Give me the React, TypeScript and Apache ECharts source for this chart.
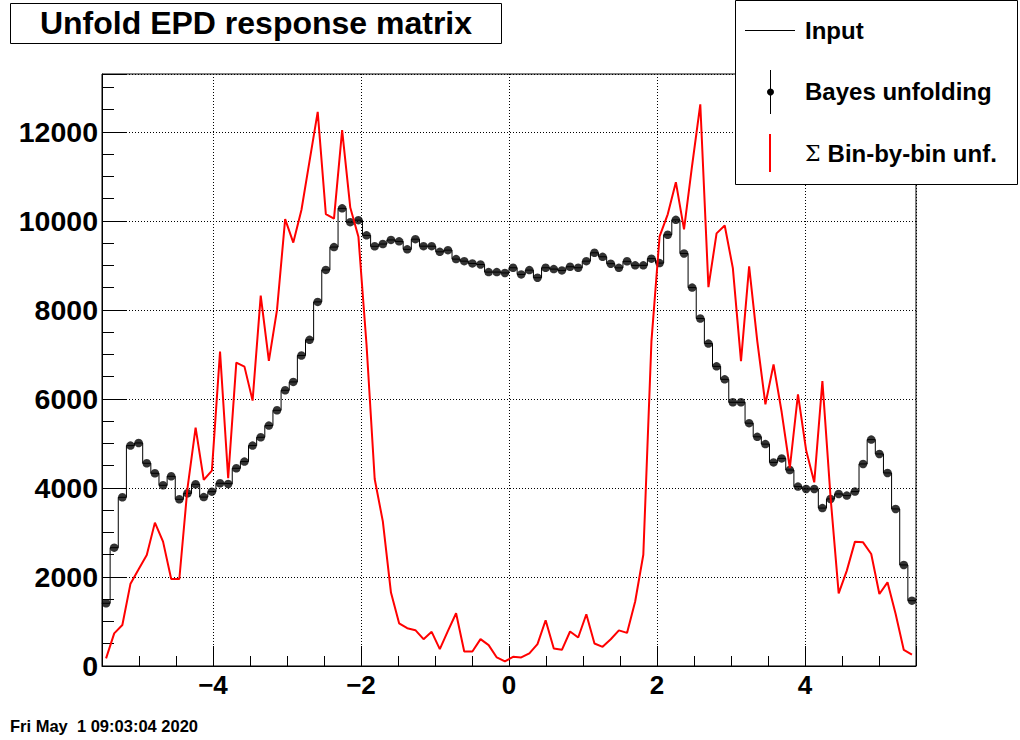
import React, { useEffect, useRef } from 'react';
import * as echarts from 'echarts';

// Histogram binning (x axis)
const X_MIN = -5.5;
const X_MAX = 5.5;
const N_BINS = 100;

// "Bayes unfolding" (black markers + step histogram), one value per bin
const bayesUnfolding = [
  1409, 2658, 3790, 4951, 5011, 4555, 4330, 4060, 4262, 3745, 3880, 4083, 3795,
  3917, 4105, 4090, 4442, 4592, 4951, 5139, 5401, 5745, 6195, 6382, 6975, 7328,
  8180, 8898, 9412, 10282, 9972, 10016, 9675, 9429, 9480, 9572, 9540, 9360,
  9589, 9432, 9432, 9305, 9343, 9141, 9096, 9044, 9021, 8850, 8850, 8830, 8947,
  8797, 8894, 8723, 8947, 8917, 8887, 8969, 8947, 9096, 9283, 9193, 9038, 8945,
  9092, 9001, 9001, 9152, 9052, 9688, 10023, 9268, 8501, 7807, 7244, 6732,
  6440, 5925, 5925, 5455, 5149, 4985, 4574, 4664, 4403, 4030, 3977, 3977,
  3548, 3753, 3865, 3828, 3918, 4539, 5086, 4764, 4337, 3528, 2270, 1468,
];

// "Σ Bin-by-bin unf." (red line), one value per bin
const binByBin = [
  170, 734, 921, 1850, 2172, 2494, 3221, 2794, 1955, 1955, 3993, 5356, 4180,
  4389, 7064, 4217, 6816, 6726, 5962, 8322, 6854, 8000, 10038, 9513, 10245, 11347,
  12449, 10150, 10050, 12039, 10300, 9645, 7212, 4200, 3250, 1650, 960, 850,
  805, 603, 767, 379, 790, 1185, 326, 326, 603, 468, 192, 102, 207,
  192, 282, 491, 1029, 394, 364, 775, 640, 1163, 506, 431, 600, 800,
  744, 1450, 2500, 7300, 9650, 10147, 10870, 9810, 11250, 12620, 8510, 9720,
  9896, 8940, 6851, 8978, 7300, 5880, 6776, 5700, 4448, 6104, 4850, 4127,
  6403, 3800, 1633, 2143, 2794, 2779, 2517, 1618, 1880, 1169, 360, 255,
];

// Axis ticks
const xTickValues = [-4, -2, 0, 2, 4];
const xTickLabels = ['\u22124', '\u22122', '0', '2', '4'];
const yTickValues = [0, 2000, 4000, 6000, 8000, 10000, 12000];
const yTickLabels = ['0', '2000', '4000', '6000', '8000', '10000', '12000'];
const Y_MIN = 0;
const Y_MAX = 13300;
const Y_INTERVAL = 2000;

// Texts
const titleText = 'Unfold EPD response matrix';
const legendLabels = ['Input', 'Bayes unfolding', 'Bin-by-bin unf.'];
const dateText = 'Fri May  1 09:03:04 2020';

const FONT = 'Liberation Sans';

export default function App() {
  const ref = useRef<HTMLDivElement>(null);

  useEffect(() => {
    document.body.style.margin = '0';
    if (!ref.current) return;
    const chart = echarts.init(ref.current, null, { renderer: 'svg' });

    const binW = (X_MAX - X_MIN) / N_BINS;
    const centers = bayesUnfolding.map((_, i) => X_MIN + binW * (i + 0.5));
    const stepData: number[][] = bayesUnfolding.map((v, i) => [X_MIN + binW * i, v]);
    stepData.push([X_MAX, bayesUnfolding[N_BINS - 1]]);
    const markerData = bayesUnfolding.map((v, i) => [centers[i], v]);
    const redData = binByBin.map((v, i) => [centers[i], v]);

    const xFmt = (v: number) => {
      const k = xTickValues.findIndex((t) => Math.abs(t - v) < 1e-6);
      return k >= 0 ? xTickLabels[k] : '';
    };
    const yFmt = (v: number) => {
      const k = yTickValues.findIndex((t) => Math.abs(t - v) < 1e-6);
      return k >= 0 ? yTickLabels[k] : '';
    };

    const gridLine = { show: true, lineStyle: { color: '#000', width: 1, type: [1, 2] } };

    const option: any = {
      animation: false,
      backgroundColor: '#fff',
      textStyle: { fontFamily: FONT },
      grid: {
        left: 102, right: 104, top: 74, bottom: 74,
        show: true, borderColor: '#000', borderWidth: 1, backgroundColor: 'transparent',
        containLabel: false,
      },
      xAxis: {
        type: 'value', min: X_MIN, max: X_MAX, splitNumber: 5,
        axisLine: { show: true, onZero: false, lineStyle: { color: '#000', width: 1 } },
        axisTick: { show: true, inside: true, length: 20, lineStyle: { color: '#000', width: 1 } },
        minorTick: { show: true, splitNumber: 4, length: 10, lineStyle: { color: '#000', width: 1 } },
        splitLine: gridLine,
        axisLabel: {
          formatter: xFmt, showMinLabel: false, showMaxLabel: false,
          color: '#000', fontFamily: FONT, fontWeight: 'bold', fontSize: 26, margin: 6,
        },
      },
      yAxis: {
        type: 'value', min: Y_MIN, max: Y_MAX, interval: Y_INTERVAL,
        axisLine: { show: true, onZero: false, lineStyle: { color: '#000', width: 1 } },
        axisTick: { show: true, inside: true, length: 24, lineStyle: { color: '#000', width: 1 } },
        minorTick: { show: true, splitNumber: 4, length: 12, lineStyle: { color: '#000', width: 1 } },
        splitLine: gridLine,
        axisLabel: {
          formatter: yFmt, showMaxLabel: false,
          color: '#000', fontFamily: FONT, fontWeight: 'bold', fontSize: 28.5, margin: 4,
        },
      },
      series: [
        {
          name: 'Input', type: 'line', data: stepData, step: 'end', symbol: 'none',
          lineStyle: { color: '#000', width: 1 }, z: 2, silent: true,
        },
        {
          name: 'Bayes unfolding', type: 'scatter', data: markerData, symbol: 'circle', symbolSize: 8.5,
          itemStyle: { color: '#000' }, z: 3, silent: true,
        },
        {
          name: 'Bin-by-bin', type: 'line', data: redData, symbol: 'none',
          lineStyle: { color: '#ff0000', width: 2 }, z: 4, silent: true,
        },
      ],
      graphic: [
        {
          type: 'rect', z: 100, shape: { x: 10.5, y: 3.5, width: 491, height: 40 },
          style: { fill: '#fff', stroke: '#000', lineWidth: 1 },
        },
        {
          type: 'text', z: 101, x: 256, y: 23,
          style: { text: titleText, fontFamily: FONT, fontWeight: 'bold', fontSize: 32, fill: '#000', align: 'center', verticalAlign: 'middle' },
        },
        {
          type: 'rect', z: 100, shape: { x: 735.5, y: 0.5, width: 282, height: 184 },
          style: { fill: '#fff', stroke: '#000', lineWidth: 1 },
        },
        {
          type: 'line', z: 101, shape: { x1: 745, y1: 30.5, x2: 795, y2: 30.5 },
          style: { stroke: '#000', lineWidth: 1 },
        },
        {
          type: 'text', z: 101, x: 805, y: 30,
          style: { text: legendLabels[0], fontFamily: FONT, fontWeight: 'bold', fontSize: 24, fill: '#000', verticalAlign: 'middle' },
        },
        {
          type: 'line', z: 101, shape: { x1: 770.5, y1: 70, x2: 770.5, y2: 114 },
          style: { stroke: '#000', lineWidth: 1 },
        },
        {
          type: 'circle', z: 102, shape: { cx: 770.5, cy: 92, r: 3.5 },
          style: { fill: '#000' },
        },
        {
          type: 'text', z: 101, x: 805, y: 91,
          style: { text: legendLabels[1], fontFamily: FONT, fontWeight: 'bold', fontSize: 24, fill: '#000', verticalAlign: 'middle' },
        },
        {
          type: 'line', z: 101, shape: { x1: 770, y1: 134, x2: 770, y2: 172 },
          style: { stroke: '#ff0000', lineWidth: 2 },
        },
        {
          type: 'text', z: 101, x: 805, y: 153,
          style: {
            text: '{s|\u03A3\u00A0}{b|' + legendLabels[2] + '}',
            verticalAlign: 'middle', fill: '#000',
            rich: {
              s: { fontFamily: 'DejaVu Serif', fontSize: 22, fill: '#000' },
              b: { fontFamily: FONT, fontWeight: 'bold', fontSize: 24, fill: '#000' },
            },
          },
        },
        {
          type: 'text', z: 101, x: 10, y: 726,
          style: { text: dateText, fontFamily: FONT, fontWeight: 'bold', fontSize: 16.5, fill: '#000', verticalAlign: 'middle' },
        },
      ],
    };

    chart.setOption(option);
    return () => chart.dispose();
  }, []);

  return <div ref={ref} style={{ width: 1020, height: 740 }} />;
}
